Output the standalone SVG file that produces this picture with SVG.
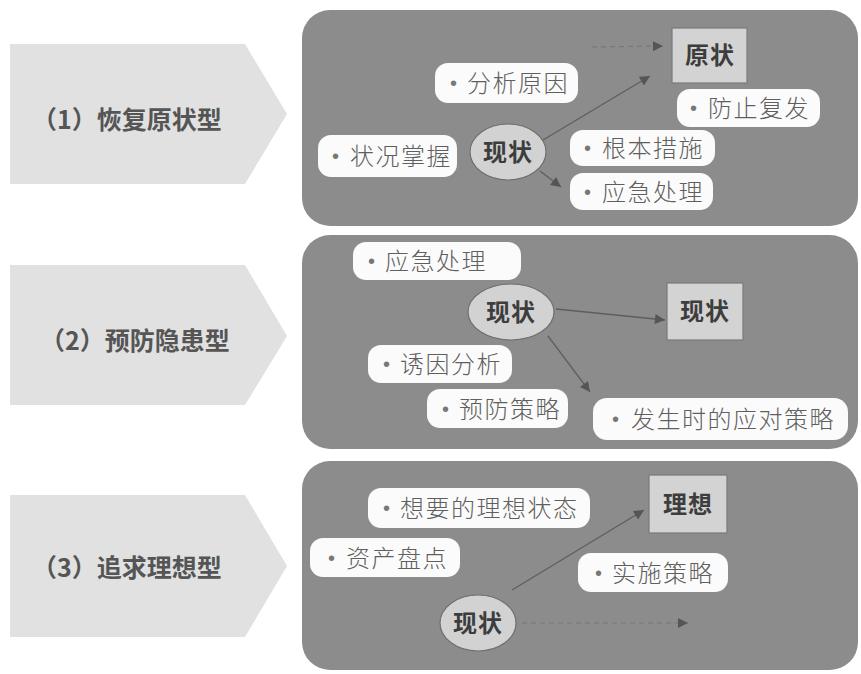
<svg xmlns="http://www.w3.org/2000/svg" width="861" height="674" viewBox="0 0 861 674">
<style>
.pent{fill:#e1e1e1}
.ptxt{font-family:"Noto Sans CJK SC","Liberation Serif",sans-serif;font-size:25px;font-weight:700;fill:#555}
.panel{fill:#8c8c8c}
.wbox{fill:#fbfbfb}
.wtxt{font-family:"Noto Sans CJK SC","Liberation Sans",sans-serif;font-size:24px;font-weight:300;fill:#5f5f5f;letter-spacing:1.5px}
.dot{font-family:"Liberation Sans",sans-serif;font-size:20px;fill:#777}
.sq{fill:#d3d3d3;stroke:#7a7a7a;stroke-width:1.2}
.el{fill:#d2d2d2;stroke:#6f6f6f;stroke-width:1.2}
.btxt{font-family:"Noto Sans CJK SC","Liberation Sans",sans-serif;font-size:24px;font-weight:700;fill:#3d3d3d;text-anchor:middle;letter-spacing:1px}
.ln{stroke:#5e5e5e;stroke-width:1.3;fill:none}
.dash{stroke:#777;stroke-width:1.2;fill:none;stroke-dasharray:5 4}
</style>
<defs>
<marker id="ah" viewBox="0 0 10 10" refX="10" refY="5" markerWidth="14" markerHeight="10" markerUnits="userSpaceOnUse" orient="auto">
<path d="M0,0 L10,5 L0,10 Z" fill="#555"/>
</marker>
</defs>
<rect width="861" height="674" fill="#ffffff"/>

<g id="type1">
<polygon class="pent" points="10,44 245,44 287,114 245,184 10,184"/>
<text class="ptxt" x="32" y="129">（1）恢复原状型</text>
</g>
<g id="type2">
<polygon class="pent" points="10,265 245,265 287,336 245,405 10,405"/>
<text class="ptxt" x="40" y="350">（2）预防隐患型</text>
</g>
<g id="type3">
<polygon class="pent" points="10,495 245,495 287,566 245,637 10,637"/>
<text class="ptxt" x="32" y="577">（3）追求理想型</text>
</g>

<g id="panel1"><rect class="panel" x="302" y="10" width="556" height="216" rx="28"/></g>
<g id="panel2"><rect class="panel" x="302" y="235" width="556" height="214" rx="28"/></g>
<g id="panel3"><rect class="panel" x="302" y="461" width="556" height="209" rx="28"/></g>

<g id="connectors">
<path class="dash" d="M592,47 L663,46" marker-end="url(#ah)"/>
<path class="ln" d="M543,140 L650,76" marker-end="url(#ah)"/>
<path class="ln" d="M540,171 L561,187" marker-end="url(#ah)"/>
<path class="ln" d="M556,309 L665,320" marker-end="url(#ah)"/>
<path class="ln" d="M548,336 L590,392" marker-end="url(#ah)"/>
<path class="ln" d="M512,590 L644,510" marker-end="url(#ah)"/>
<path class="dash" d="M522,623 L688,623" marker-end="url(#ah)"/>
</g>

<g id="p1-analyze"><rect class="wbox" x="435" y="63" width="143" height="40" rx="13"/><text class="dot" x="450" y="90">•</text><text class="wtxt" x="467" y="92">分析原因</text></g>
<g id="p1-original"><rect class="sq" x="672" y="28" width="75" height="55"/><text class="btxt" x="710" y="64">原状</text></g>
<g id="p1-prevent"><rect class="wbox" x="677" y="89" width="143" height="38" rx="13"/><text class="dot" x="690" y="115">•</text><text class="wtxt" x="708" y="117">防止复发</text></g>
<g id="p1-grasp"><rect class="wbox" x="318" y="135" width="139" height="42" rx="13"/><text class="dot" x="332" y="163">•</text><text class="wtxt" x="350" y="165">状况掌握</text></g>
<g id="p1-current"><ellipse class="el" cx="508" cy="152" rx="38" ry="28"/><text class="btxt" x="508" y="161">现状</text></g>
<g id="p1-root"><rect class="wbox" x="570" y="130" width="145" height="36" rx="13"/><text class="dot" x="584" y="155">•</text><text class="wtxt" x="602" y="157">根本措施</text></g>
<g id="p1-emergency"><rect class="wbox" x="570" y="173" width="143" height="37" rx="13"/><text class="dot" x="584" y="199">•</text><text class="wtxt" x="602" y="201">应急处理</text></g>

<g id="p2-emergency"><rect class="wbox" x="353" y="242" width="168" height="38" rx="13"/><text class="dot" x="368" y="268">•</text><text class="wtxt" x="385" y="270">应急处理</text></g>
<g id="p2-current"><ellipse class="el" cx="511" cy="312" rx="43" ry="28"/><text class="btxt" x="511" y="321">现状</text></g>
<g id="p2-target"><rect class="sq" x="667" y="283" width="76" height="57"/><text class="btxt" x="705" y="320">现状</text></g>
<g id="p2-cause"><rect class="wbox" x="368" y="345" width="144" height="38" rx="13"/><text class="dot" x="383" y="371">•</text><text class="wtxt" x="400" y="373">诱因分析</text></g>
<g id="p2-prevent"><rect class="wbox" x="427" y="389" width="141" height="39" rx="13"/><text class="dot" x="442" y="416">•</text><text class="wtxt" x="459" y="418">预防策略</text></g>
<g id="p2-response"><rect class="wbox" x="593" y="398" width="255" height="42" rx="14"/><text class="dot" x="612" y="426">•</text><text class="wtxt" x="631" y="428">发生时的应对策略</text></g>

<g id="p3-ideal-state"><rect class="wbox" x="368" y="488" width="222" height="40" rx="13"/><text class="dot" x="383" y="515">•</text><text class="wtxt" x="400" y="517">想要的理想状态</text></g>
<g id="p3-ideal"><rect class="sq" x="649" y="475" width="78" height="58"/><text class="btxt" x="688" y="513">理想</text></g>
<g id="p3-assets"><rect class="wbox" x="310" y="538" width="150" height="39" rx="13"/><text class="dot" x="328" y="565">•</text><text class="wtxt" x="346" y="567">资产盘点</text></g>
<g id="p3-implement"><rect class="wbox" x="578" y="553" width="150" height="39" rx="13"/><text class="dot" x="595" y="580">•</text><text class="wtxt" x="612" y="582">实施策略</text></g>
<g id="p3-current"><ellipse class="el" cx="478" cy="623" rx="38" ry="28"/><text class="btxt" x="478" y="632">现状</text></g>
</svg>
